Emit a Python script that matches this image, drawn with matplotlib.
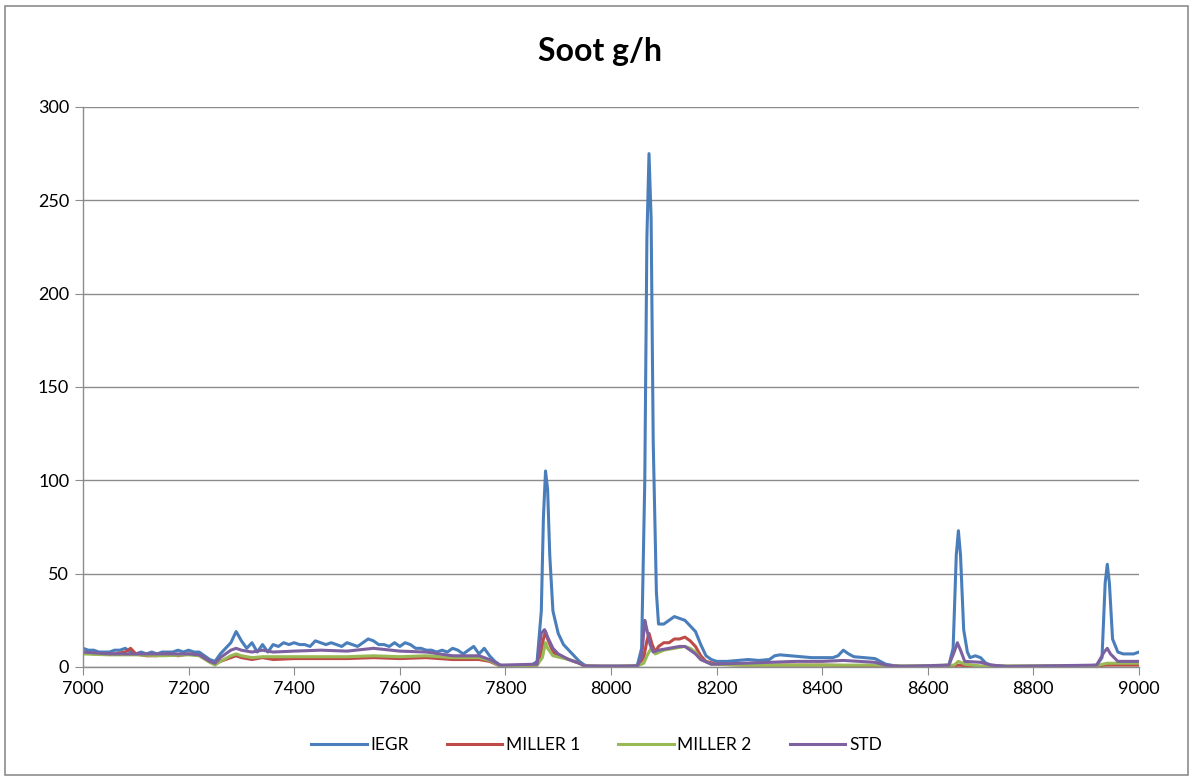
import matplotlib
matplotlib.use("Agg")
import matplotlib.pyplot as plt
from matplotlib.patches import Rectangle

# ---------------- data ----------------
iegr_x = [7000, 7010, 7020, 7030, 7040, 7050, 7060, 7070, 7080, 7090, 7100, 7110, 7120, 7130, 7140,
          7150, 7160, 7170, 7180, 7190, 7200, 7210, 7220, 7230, 7240, 7250, 7260, 7270, 7280, 7290,
          7300, 7310, 7320, 7330, 7340, 7350, 7360, 7370, 7380, 7390, 7400, 7410, 7420, 7430, 7440,
          7450, 7460, 7470, 7480, 7490, 7500, 7510, 7520, 7530, 7540, 7550, 7560, 7570, 7580, 7590,
          7600, 7610, 7620, 7630, 7640, 7650, 7660, 7670, 7680, 7690, 7700, 7710, 7720, 7730, 7740,
          7750, 7760, 7770, 7780, 7790, 7800, 7810, 7820, 7830, 7840, 7850, 7860, 7868, 7872, 7876,
          7880, 7884, 7890, 7900, 7910, 7920, 7930, 7940, 7950, 7960, 7980, 8000, 8020, 8040, 8050,
          8058, 8064, 8068, 8072, 8076, 8080, 8086, 8090, 8100, 8110, 8120, 8130, 8140, 8150, 8160,
          8170, 8180, 8190, 8200, 8220, 8240, 8260, 8280, 8300, 8310, 8320, 8340, 8360, 8380, 8400,
          8420, 8430, 8440, 8450, 8460, 8480, 8500, 8510, 8520, 8540, 8600, 8640, 8648, 8654, 8658,
          8662, 8668, 8675, 8680, 8690, 8700, 8710, 8720, 8750, 8800, 8850, 8900, 8920, 8930, 8936,
          8940, 8944, 8950, 8960, 8970, 8980, 8990, 9000]
iegr_y = [10, 9, 9, 8, 8, 8, 9, 9, 10, 8, 7, 8, 7, 8, 7,
          8, 8, 8, 9, 8, 9, 8, 8, 6, 4, 3, 7, 10, 13, 19,
          14, 10, 13, 8, 12, 8, 12, 11, 13, 12, 13, 12, 12, 11, 14,
          13, 12, 13, 12, 11, 13, 12, 11, 13, 15, 14, 12, 12, 11, 13,
          11, 13, 12, 10, 10, 9, 9, 8, 9, 8, 10, 9, 7, 9, 11,
          7, 10, 6, 3, 1, 0.5, 0, 0, 0.5, 1, 1, 3, 30, 80, 105,
          95, 60, 30, 18, 12, 9, 6, 3, 1, 0.5, 0.3, 0.3, 0.3, 0.5, 1,
          10, 100, 230, 275, 240, 120, 40, 23, 23, 25, 27, 26, 25, 22, 19,
          12, 6, 4, 3, 3, 3.5, 4, 3.5, 4, 6, 6.5, 6, 5.5, 5, 5,
          5, 6, 9, 7, 5.5, 5, 4.5, 3, 1.5, 0.5, 0.3, 1, 10, 60, 73,
          60, 20, 8, 5, 6, 5, 2, 1, 0.3, 0.3, 0.3, 0.5, 1, 5, 45,
          55, 45, 15, 8, 7, 7, 7, 8]

m1_x = [7000, 7020, 7040, 7060, 7080, 7090, 7100, 7120, 7140, 7160, 7180, 7200, 7220, 7240, 7250,
        7260, 7280, 7290, 7300, 7320, 7340, 7360, 7400, 7450, 7500, 7550, 7600, 7650, 7700, 7750,
        7770, 7790, 7800, 7860, 7866, 7872, 7876, 7880, 7890, 7900, 7920, 7940, 7950, 8000, 8050,
        8062, 8068, 8072, 8078, 8084, 8090, 8100, 8110, 8120, 8130, 8140, 8150, 8160, 8170, 8180,
        8200, 8250, 8300, 8400, 8500, 8600, 8650, 8658, 8680, 8700, 8900, 8940, 9000]
m1_y = [8, 7, 7, 7, 8, 10, 7, 6, 6, 7, 6, 7, 6.5, 3, 1.5,
        3, 5, 6, 5, 4, 5, 4, 4.5, 4.5, 4.5, 5, 4.5, 5, 4, 4,
        3, 0.5, 0.3, 1, 5, 15, 19, 15, 8, 6, 4, 2, 0.5, 0.2, 0.5,
        5, 14, 18, 12, 8, 11, 13, 13, 15, 15, 16, 14, 11, 6, 3,
        1.5, 1, 1, 1, 0.5, 0.2, 0.5, 1, 0.5, 0.3, 0.3, 1, 1]

m2_x = [7000, 7050, 7100, 7150, 7200, 7220, 7240, 7250, 7260, 7280, 7290, 7300, 7320, 7340, 7400,
        7450, 7500, 7550, 7600, 7650, 7700, 7750, 7770, 7790, 7860, 7870, 7876, 7880, 7890, 7920,
        7940, 7950, 8050, 8062, 8070, 8076, 8084, 8100, 8120, 8140, 8150, 8160, 8170, 8190, 8250,
        8500, 8550, 8650, 8658, 8670, 8700, 8920, 8940, 9000]
m2_y = [7, 6.5, 6.5, 6, 6.5, 6, 2.5, 1, 3, 6, 7, 6, 5, 5.5, 5.5,
        5.5, 5.5, 6, 5.5, 6, 5, 5, 3.5, 0.5, 1, 5, 13, 10, 6, 4,
        2, 0.5, 0.5, 2, 7, 10, 7, 9, 10, 11, 10, 8, 4, 1.5, 1,
        1, 0.5, 1, 3, 1.5, 0.5, 0.8, 2, 2]

std_x = [7000, 7050, 7100, 7150, 7200, 7220, 7240, 7250, 7260, 7280, 7290, 7300, 7320, 7340, 7360,
         7400, 7450, 7500, 7550, 7600, 7650, 7700, 7750, 7770, 7790, 7860, 7868, 7874, 7880, 7890,
         7900, 7920, 7940, 7950, 8050, 8058, 8064, 8068, 8074, 8080, 8090, 8110, 8130, 8140, 8150,
         8160, 8170, 8190, 8250, 8300, 8350, 8400, 8440, 8500, 8520, 8550, 8640, 8650, 8656, 8662,
         8670, 8700, 8720, 8750, 8920, 8934, 8940, 8946, 8960, 9000]
std_y = [8, 7, 7, 7, 7, 6.5, 3, 2, 5, 9, 10, 9, 8, 9, 8,
         8.5, 9, 8.5, 10, 8.5, 8, 6, 6, 4, 1, 1.5, 18, 20, 16, 10,
         7, 4, 2, 0.5, 0.5, 5, 25, 20, 12, 8, 9, 10, 11, 11, 9,
         7, 4, 1.5, 2, 2.5, 3, 3, 3.5, 2.5, 1, 0.3, 1, 8, 13, 9,
         3, 2.5, 1, 0.3, 1, 8, 10, 7, 3, 3]

series_names = ["IEGR", "MILLER 1", "MILLER 2", "STD"]
x_ticks = list(range(7000, 9001, 200))
y_ticks = list(range(0, 301, 50))

# ---------------- plot ----------------
plt.rcParams['font.family'] = ['Lato', 'DejaVu Sans']
fig = plt.figure(figsize=(11.93, 7.78), dpi=100)
fig.patches.append(Rectangle((0.004, 0.004), 0.992, 0.988, transform=fig.transFigure,
                             fill=False, edgecolor='#8c8c8c', linewidth=1.2))
ax = fig.add_axes([0.0696, 0.1427, 0.8851, 0.7198])

colors = ['#4A7EBB', '#BE4B48', '#98B954', '#7D60A0']
data = [(iegr_x, iegr_y), (m1_x, m1_y), (m2_x, m2_y), (std_x, std_y)]
for (xs, ys), c, name in zip(data, colors, series_names):
    ax.plot(xs, ys, color=c, lw=2.2, label=name, solid_joinstyle='round')

ax.set_xlim(7000, 9000)
ax.set_ylim(0, 300)
ax.set_xticks(x_ticks)
ax.set_yticks(y_ticks)
ax.yaxis.grid(True, color='#8c8c8c', lw=1)
ax.set_axisbelow(True)
for s in ['top', 'right']:
    ax.spines[s].set_visible(False)
for s in ['left', 'bottom']:
    ax.spines[s].set_color('#8c8c8c')
    ax.spines[s].set_linewidth(1)
ax.tick_params(axis='both', direction='out', length=6, color='#8c8c8c', labelsize=13,
               labelcolor='#000000', pad=4)

fig.suptitle("Soot g/h", x=0.503, y=0.952, fontsize=23, fontweight='bold')
fig.legend(loc='center', bbox_to_anchor=(0.5, 0.042), ncol=4, frameon=False, fontsize=12.5,
           handlelength=3.2, columnspacing=2.2, handletextpad=0.2)

fig.savefig("out.png", dpi=100)
